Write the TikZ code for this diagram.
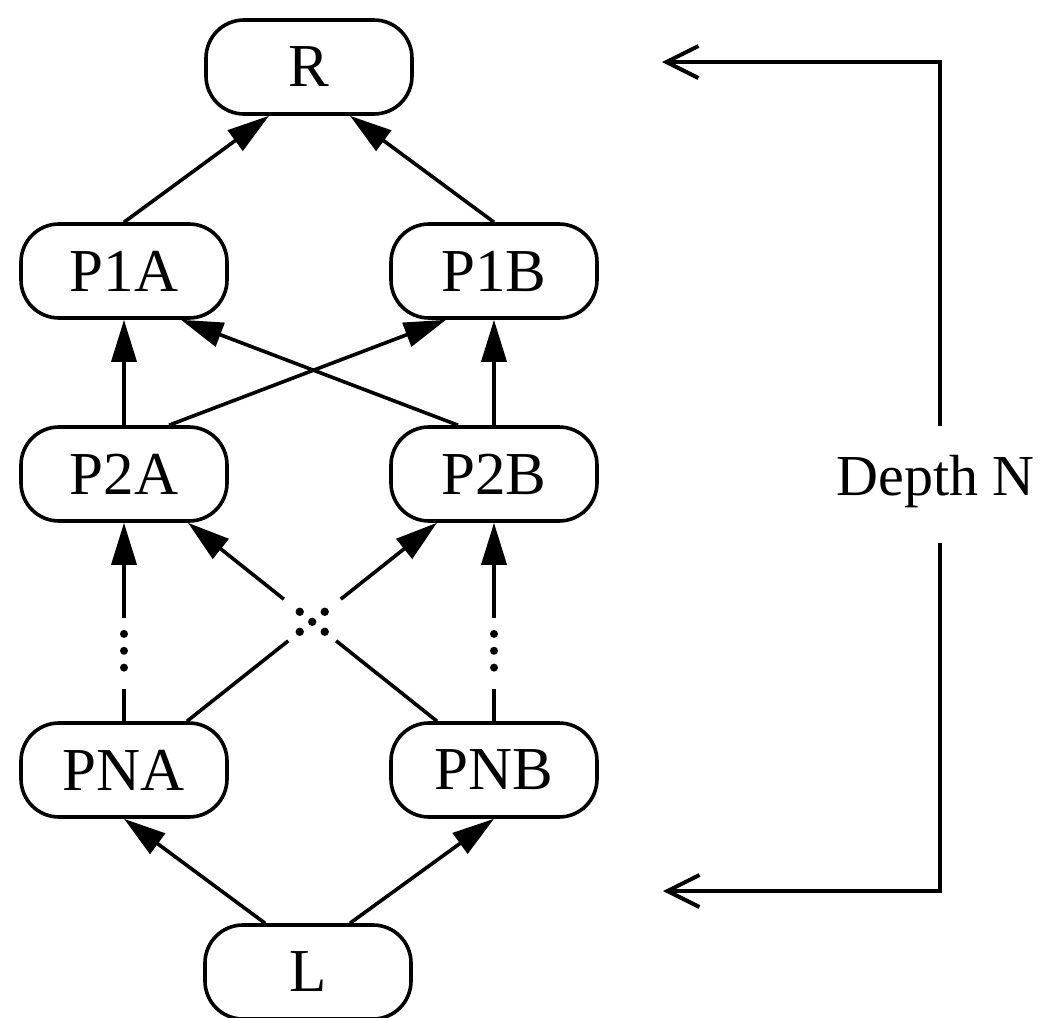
\documentclass[tikz,border=0pt]{standalone}
\usepackage{fontspec}
\setmainfont{Liberation Serif}
\usetikzlibrary{arrows.meta,calc}
\newcommand{\boxfont}{\fontsize{30.5pt}{36pt}\selectfont}
\newcommand{\depthfont}{\fontsize{29pt}{34pt}\selectfont}
\begin{document}
\begin{tikzpicture}[x=0.5pt,y=-0.5pt,
  box/.style={draw, line width=1.8pt, rounded corners=19pt,
    minimum width=103pt, minimum height=47pt, inner sep=0pt, font=\boxfont},
  ln/.style={line width=1.8pt},
  arr/.style={line width=1.8pt, -{Triangle[length=21pt,width=12.5pt]}},
  brk/.style={line width=2pt, -{Straight Barb[length=16pt,width=16pt]}},
  dotmark/.style={fill=black}]
\useasboundingbox (0,0) rectangle (1041,1018);
% nodes
\node[box] (R)   at (309,67)  {R};
\node[box] (P1A) at (124,271) {P1A};
\node[box] (P1B) at (494,271) {P1B};
\node[box] (P2A) at (124,474) {P2A};
\node[box] (P2B) at (494,474) {P2B};
\node[box] (PNA) at (124,770) {PNA};
\node[box] (PNB) at (494,770) {PNB};
\node[box] (L)   at (308,972) {L};
% level 1 -> R
\draw[arr] (P1A.north) -- ([xshift=-20pt]R.south);
\draw[arr] (P1B.north) -- ([xshift=20.5pt]R.south);
% level 2 -> level 1
\draw[arr] (P2A.north) -- (P1A.south);
\draw[arr] (P2B.north) -- (P1B.south);
\draw[arr] ([xshift=22.5pt]P2A.north) -- ([xshift=-24pt]P1B.south);
\draw[arr] ([xshift=-18pt]P2B.north) -- ([xshift=28.5pt]P1A.south);
% level N -> level 2 (with ellipsis)
\coordinate (a1) at ([xshift=31.5pt]PNA.north);
\coordinate (a2) at ([xshift=-28.5pt]P2B.south);
\coordinate (b1) at ([xshift=-28.5pt]PNB.north);
\coordinate (b2) at ([xshift=32pt]P2A.south);
\draw[ln] (a1) -- ($(a1)!0.405!(a2)$);
\draw[arr] ($(a1)!0.615!(a2)$) -- (a2);
\draw[ln] (b1) -- ($(b1)!0.405!(b2)$);
\draw[arr] ($(b1)!0.615!(b2)$) -- (b2);
\coordinate (X) at (intersection of a1--a2 and b1--b2);
\fill[dotmark] (X) circle (2.1pt);
\fill[dotmark] ($(X)+(-12.5,-10)$) circle (2.1pt);
\fill[dotmark] ($(X)+(12.5,-10)$) circle (2.1pt);
\fill[dotmark] ($(X)+(-12.5,10)$) circle (2.1pt);
\fill[dotmark] ($(X)+(12.5,10)$) circle (2.1pt);
% vertical dotted connectors
\draw[ln] (PNA.north) -- ($(PNA.north)!0.16!(P2A.south)$);
\fill[dotmark] ($(PNA.north)!0.27!(P2A.south)$) circle (2pt);
\fill[dotmark] ($(PNA.north)!0.355!(P2A.south)$) circle (2pt);
\fill[dotmark] ($(PNA.north)!0.44!(P2A.south)$) circle (2pt);
\draw[arr] ($(PNA.north)!0.52!(P2A.south)$) -- (P2A.south);
\draw[ln] (PNB.north) -- ($(PNB.north)!0.16!(P2B.south)$);
\fill[dotmark] ($(PNB.north)!0.27!(P2B.south)$) circle (2pt);
\fill[dotmark] ($(PNB.north)!0.355!(P2B.south)$) circle (2pt);
\fill[dotmark] ($(PNB.north)!0.44!(P2B.south)$) circle (2pt);
\draw[arr] ($(PNB.north)!0.52!(P2B.south)$) -- (P2B.south);
% L -> level N
\draw[arr] ([xshift=-21.5pt]L.north) -- (PNA.south);
\draw[arr] ([xshift=21pt]L.north) -- (PNB.south);
% depth bracket
\node[font=\depthfont, anchor=base, inner sep=0pt] (depth) at (935.5,495) {Depth N};
\coordinate (tg) at (940,426);
\coordinate (tt) at (662,62);
\coordinate (bg) at (940,543);
\coordinate (bt) at (663,891);
\draw[brk] (tg) |- (tt);
\draw[brk] (bg) |- (bt);
\end{tikzpicture}
\end{document}
